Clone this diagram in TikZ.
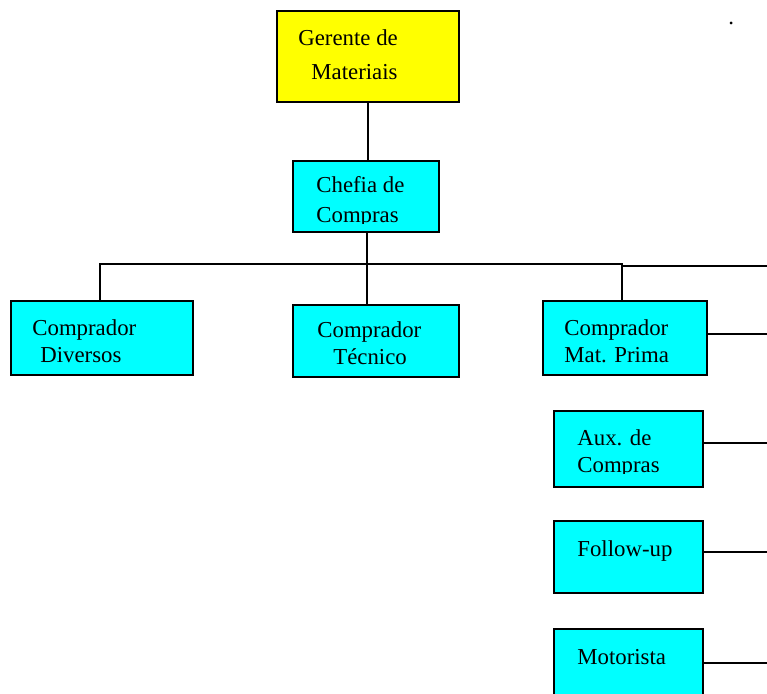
\documentclass[tikz,border=0pt]{standalone}
\usepackage{fontspec}
\setmainfont{Liberation Serif}
\definecolor{boxcyan}{RGB}{0,255,255}
\definecolor{boxyellow}{RGB}{255,255,0}
\begin{document}
\begin{tikzpicture}[x=0.5pt,y=-0.5pt,
  box/.style={draw=black, line width=1pt, fill=boxcyan, inner sep=0pt, anchor=north west},
  lbl/.style={anchor=base west, inner sep=0pt, font=\fontsize{11.4}{13}\selectfont},
  conn/.style={draw=black, line width=1pt}]
\useasboundingbox (0,0) rectangle (767,694);
\clip (0,0) rectangle (767,694);

% boxes
\node[box, fill=boxyellow, minimum width=91pt, minimum height=45.5pt] (gerente) at (276,10) {};
\node[box, minimum width=73pt, minimum height=35.5pt] (chefia) at (292,160) {};
\node[box, minimum width=91pt, minimum height=37pt] (diversos) at (10,300) {};
\node[box, minimum width=83pt, minimum height=36pt] (tecnico) at (292,304) {};
\node[box, minimum width=82pt, minimum height=37pt] (matprima) at (542,300) {};
\node[box, minimum width=74.5pt, minimum height=38pt] (aux) at (553,410) {};
\node[box, minimum width=74.5pt, minimum height=36pt] (follow) at (553,520) {};
\node[box, minimum width=74.5pt, minimum height=41pt] (motorista) at (553,628) {};

% labels
\node[lbl] (t1) at (298,46) {Gerente de};
\node[lbl] (t2) at (311,80) {Materiais};
\node[lbl] (t3) at (316,193) {Chefia de};
\begin{scope}
  \clip (292,160) rectangle (438,224);
  \node[lbl] (t4) at (316,223) {Compras};
\end{scope}
\node[lbl] (t5) at (32,336) {Comprador};
\node[lbl] (t6) at (40,363) {Diversos};
\node[lbl] (t7) at (317,338) {Comprador};
\node[lbl] (t8) at (333,365) {Técnico};
\node[lbl] (t9) at (564,336) {Comprador};
\node[lbl] (t10) at (564,363) {Mat. Prima};
\node[lbl] (t11) at (577,446) {Aux. de};
\begin{scope}
  \clip (553,410) rectangle (702,474);
  \node[lbl] (t12) at (577,473) {Compras};
\end{scope}
\node[lbl] (t13) at (577,557) {Follow-up};
\node[lbl] (t14) at (577,665) {Motorista};
\node[lbl] (dot) at (728,25) {.};

% connector points
\coordinate (j) at (367,264);
\coordinate (busL) at (100,264);
\coordinate (busR) at (622,264);
\coordinate (step) at (622,266);
\coordinate (e0) at (767,266);
\coordinate (e1) at (767,334);
\coordinate (e2) at (767,443);
\coordinate (e3) at (767,552);
\coordinate (e4) at (767,663);

% connectors
\draw[conn] (gerente.south) -- (gerente.south |- chefia.north);
\draw[conn] (j |- chefia.south) -- (j);
\draw[conn] (busL |- diversos.north) -- (busL) -- (busR) -- (busR |- matprima.north);
\draw[conn] (j) -- (j |- tecnico.north);
\draw[conn] (busR) -- (step) -- (e0);
\draw[conn] (matprima.east |- e1) -- (e1);
\draw[conn] ([xshift=-1pt]aux.east |- e2) -- (e2);
\draw[conn] ([xshift=-1pt]follow.east |- e3) -- (e3);
\draw[conn] ([xshift=-1pt]motorista.east |- e4) -- (e4);
\end{tikzpicture}
\end{document}
